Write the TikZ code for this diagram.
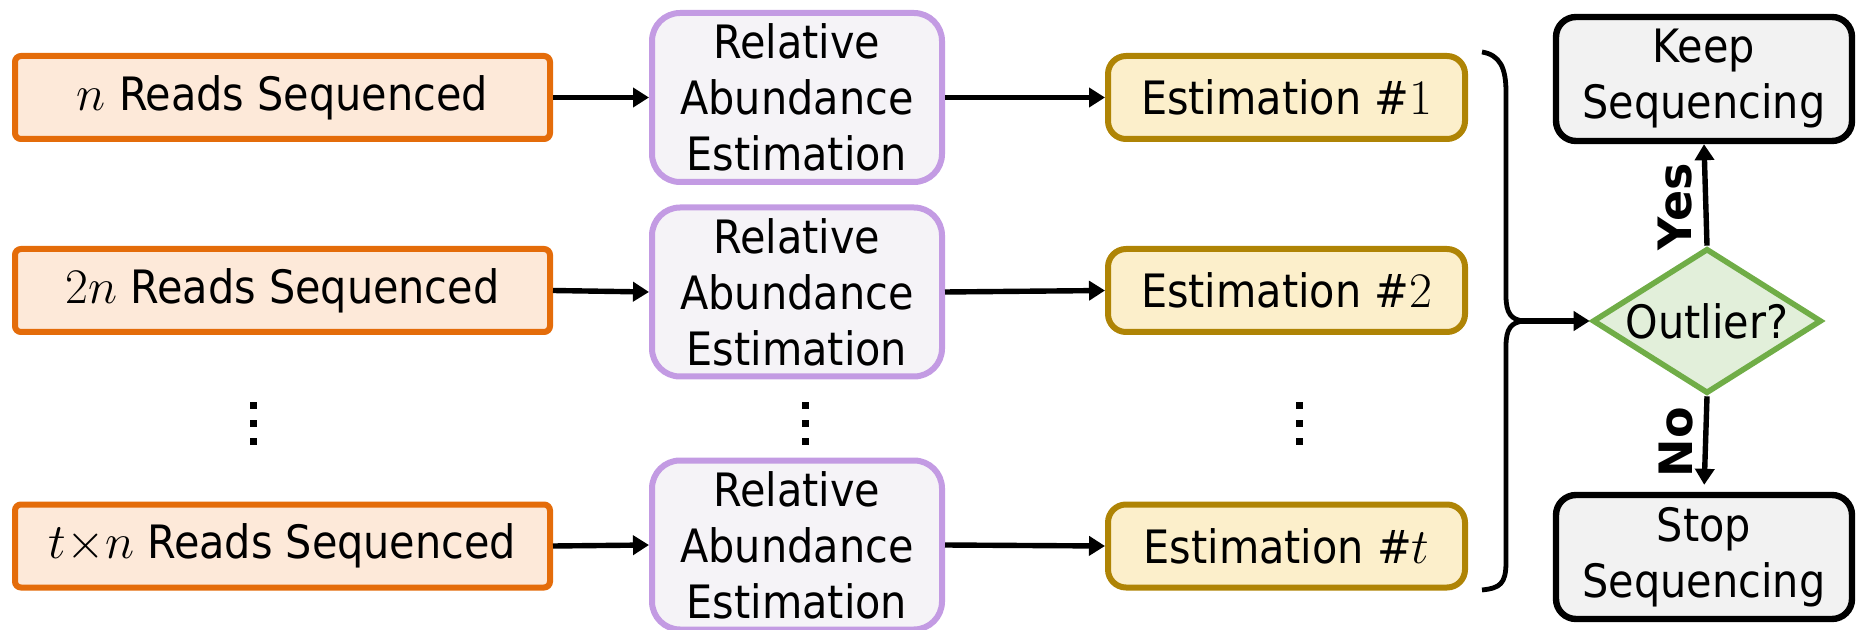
\documentclass[tikz,border=0pt]{standalone}
\usepackage{fontspec}
\setmainfont{DejaVu Sans Condensed}
\newfontfamily\labelfont{DejaVu Sans}
\usetikzlibrary{arrows.meta,shapes.geometric}

\definecolor{readedge}{HTML}{E46C0A}
\definecolor{readfill}{HTML}{FDE9D9}
\definecolor{rabedge}{HTML}{C39BE3}
\definecolor{rabfill}{HTML}{F5F3F7}
\definecolor{estedge}{HTML}{AF8405}
\definecolor{estfill}{HTML}{FCEFCB}
\definecolor{outedge}{HTML}{70AD47}
\definecolor{outfill}{HTML}{E2EFDA}
\definecolor{endfill}{HTML}{F2F2F2}

\begin{document}
\begin{tikzpicture}[x=0.5pt,y=-0.5pt,
  every node/.style={font=\fontsize{23}{28}\selectfont, inner sep=0pt},
  readbox/.style={draw=readedge, fill=readfill, line width=3pt, rounded corners=3pt,
    minimum width=267.5pt, minimum height=41.5pt},
  rabbox/.style={draw=rabedge, fill=rabfill, line width=3pt, rounded corners=14pt,
    minimum width=145pt, minimum height=84.5pt, align=center},
  estbox/.style={draw=estedge, fill=estfill, line width=3pt, rounded corners=9pt,
    minimum width=178.5pt, minimum height=41.5pt},
  endbox/.style={draw=black, fill=endfill, line width=3.2pt, rounded corners=10pt,
    minimum width=148pt, minimum height=62pt, align=center},
  decision/.style={diamond, draw=outedge, fill=outfill, line width=2.8pt,
    minimum width=114.5pt, minimum height=72.5pt},
  flow/.style={line width=2.7pt, -{Triangle[length=8pt,width=9.5pt]}},
  answer/.style={font=\labelfont\bfseries\fontsize{23}{25}\selectfont, rotate=90},
  dotmark/.style={fill=black}
]
\useasboundingbox (0,0) rectangle (1857,630);

% reads sequenced
\node[readbox] (r1) at (282.5,97.5) {$n$ Reads Sequenced};
\node[readbox] (r2) at (282.5,290.5) {$2n$ Reads Sequenced};
\node[readbox] (r3) at (282.5,546) {$t{\times}n$ Reads Sequenced};

% relative abundance estimation
\node[rabbox] (a1) at (797,97.5) {Relative\\Abundance\\Estimation};
\node[rabbox] (a2) at (797,292) {Relative\\Abundance\\Estimation};
\node[rabbox] (a3) at (797,545) {Relative\\Abundance\\Estimation};

% estimations
\node[estbox] (e1) at (1286.5,97.5) {Estimation $\#1$};
\node[estbox] (e2) at (1286.5,290.5) {Estimation $\#2$};
\node[estbox] (e3) at (1286.5,546) {Estimation $\#t$};

% vertical ellipses between the second and last rows
\foreach \cx in {253,805,1299}
  \foreach \cy in {406,423.5,441}
    \fill[dotmark] (\cx-3.5,\cy-3.5) rectangle (\cx+3.5,\cy+3.5);

% decision and outcomes
\node[decision] (d) at (1707,321) {};
\node (q) at (d.center) {Outlier?};
\node[endbox] (k) at (1704,79) {Keep\\Sequencing};
\node[endbox] (s) at (1704,557) {Stop\\Sequencing};

% row connectors
\foreach \i in {1,2,3} {
  \draw[flow] (r\i.east) -- (a\i.west);
  \draw[flow] (a\i.east) -- (e\i.west);
}

% brace gathering all estimations
\draw[line width=2.4pt]
  (1482,52) .. controls (1500,55) and (1506,68) .. (1506,92)
  -- (1506,296) .. controls (1506,313) and (1511,320) .. (1524,321)
  .. controls (1511,322) and (1506,329) .. (1506,346)
  -- (1506,562) .. controls (1506,584) and (1500,588) .. (1482,590);
\coordinate (bt) at (1522,321);
\draw[flow] (bt) -- (d.west);

% outcomes
\draw[flow] (d.north) -- (k.south);
\draw[flow, shorten >=3.5pt] (d.south) -- (s.north);
\node[answer] (yes) at (1675,207) {Yes};
\node[answer] (no) at (1676,442) {No};
\end{tikzpicture}
\end{document}
